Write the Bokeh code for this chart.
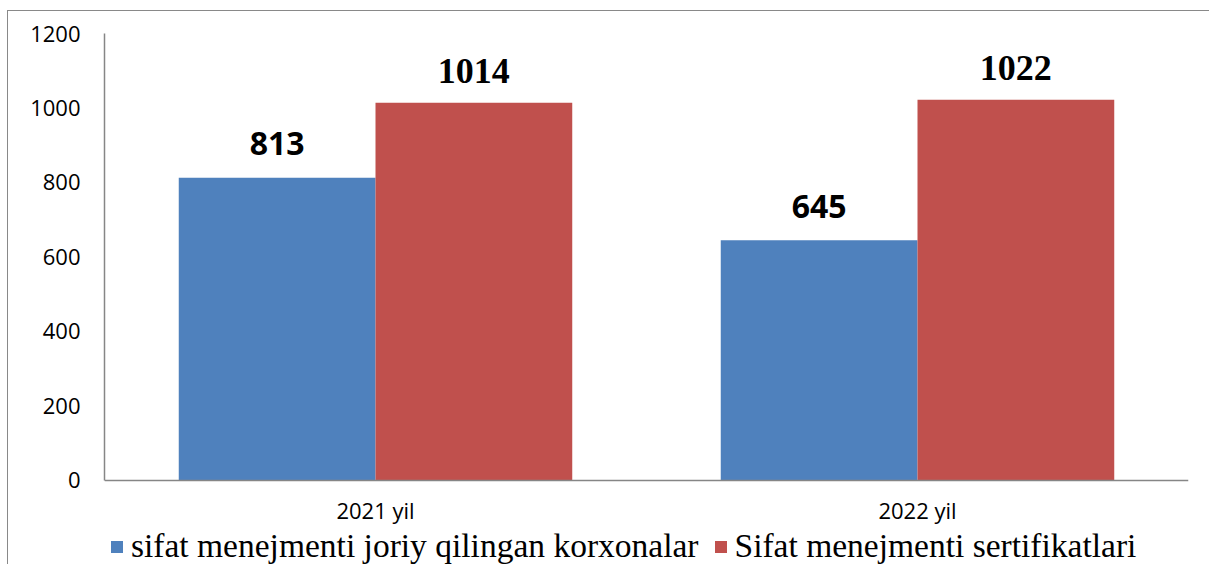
from bokeh.plotting import figure
from bokeh.models import ColumnDataSource, FactorRange, Range1d, FixedTicker, Legend, LegendItem
from bokeh.transform import dodge
from bokeh.core.properties import value
from bokeh.embed import file_html
from bokeh.resources import INLINE

# ---- data ----
categories = ["2021 yil", "2022 yil"]
series_names = ["sifat menejmenti joriy qilingan korxonalar", "Sifat menejmenti sertifikatlari"]
korxonalar = [813, 645]
sertifikatlar = [1014, 1022]
y_ticks = [0, 200, 400, 600, 800, 1000, 1200]

BLUE = "#4F81BD"
RED = "#C0504D"
GRAY = "#868686"

src = ColumnDataSource(dict(
    cat=categories,
    a=korxonalar,
    b=sertifikatlar,
    a_lbl=[str(v) for v in korxonalar],
    b_lbl=[str(v) for v in sertifikatlar],
))

Y_MAX = 1200
Y_BELOW = 228.2  # extra room under the zero line for labels and legend

p = figure(
    x_range=FactorRange(*categories, range_padding=0),
    y_range=Range1d(-Y_BELOW, Y_MAX),
    width=1202, height=554,
    output_backend="svg", toolbar_location=None,
    min_border_left=96, min_border_right=22, min_border_top=22, min_border_bottom=0,
)
p.styles = {"border-left": "1px solid #898989", "border-top": "1px solid #898989",
            "margin-left": "7px", "margin-top": "10px"}

bw = 0.363
off = bw / 2
r1 = p.vbar(x=dodge("cat", -off, range=p.x_range), top="a", width=bw, bottom=0,
            source=src, fill_color=BLUE, line_color=None)
r2 = p.vbar(x=dodge("cat", off, range=p.x_range), top="b", width=bw, bottom=0,
            source=src, fill_color=RED, line_color=None)

p.text(x=dodge("cat", -off, range=p.x_range), y="a", text="a_lbl", source=src,
       text_align="center", text_baseline="middle", y_offset=-34,
       text_font=value("Open Sans"), text_font_style="bold", text_font_size="32px",
       text_color="black")
p.text(x=dodge("cat", off, range=p.x_range), y="b", text="b_lbl", source=src,
       text_align="center", text_baseline="middle", y_offset=-32,
       text_font=value("Liberation Serif"), text_font_style="bold", text_font_size="36px",
       text_color="black")

p.xgrid.visible = False
p.ygrid.visible = False
p.outline_line_color = None
p.background_fill_color = "white"
p.border_fill_color = "white"

p.yaxis.ticker = FixedTicker(ticks=y_ticks)
p.yaxis.bounds = (0, Y_MAX)
p.xaxis.fixed_location = 0
for ax in (p.xaxis[0], p.yaxis[0]):
    ax.axis_line_color = GRAY
    ax.axis_line_width = 1.5
    ax.major_tick_line_color = None
    ax.minor_tick_line_color = None
    ax.major_tick_out = 0
    ax.major_tick_in = 0
    ax.major_label_text_font = "Open Sans"
    ax.major_label_text_font_size = "22px"
    ax.major_label_text_color = "black"
p.yaxis.major_label_standoff = 24
p.xaxis.major_label_standoff = 15

legend = Legend(
    items=[LegendItem(label=series_names[0], renderers=[r1]),
           LegendItem(label=series_names[1], renderers=[r2])],
    orientation="horizontal", location=(5, 0),
    label_text_font="Liberation Serif", label_text_font_size="33.5px",
    label_text_color="black",
    glyph_width=15, glyph_height=15, label_standoff=7, spacing=14,
    padding=0, margin=0, border_line_color=None, background_fill_alpha=0,
    label_height=30,
)
p.add_layout(legend, "center")

open("out.html", "w").write(file_html(p, INLINE))
